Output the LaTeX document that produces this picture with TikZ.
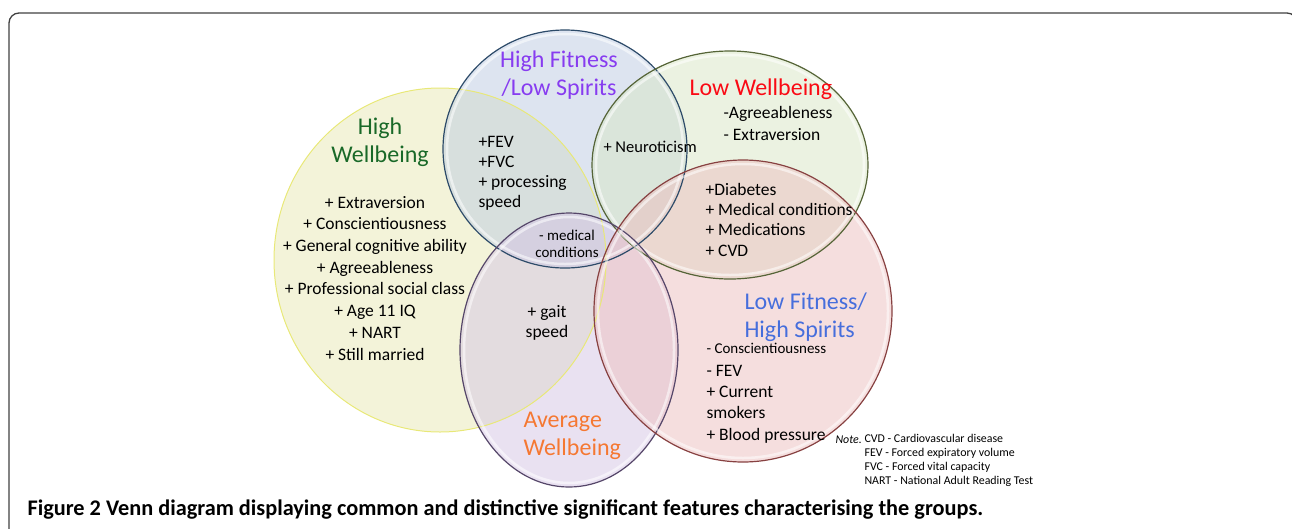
\documentclass[tikz,border=0pt]{standalone}
\usepackage{fontspec}
\setmainfont{Carlito}

\definecolor{hwfill}{RGB}{232,232,180}
\definecolor{hwedge}{RGB}{232,232,120}
\definecolor{hffill}{RGB}{188,202,226}
\definecolor{hfedge}{RGB}{45,75,105}
\definecolor{lwfill}{RGB}{216,230,196}
\definecolor{lwedge}{RGB}{85,100,55}
\definecolor{lffill}{RGB}{236,190,190}
\definecolor{lfedge}{RGB}{135,65,65}
\definecolor{awfill}{RGB}{212,196,228}
\definecolor{awedge}{RGB}{85,70,105}
\definecolor{hwcol}{RGB}{25,105,40}
\definecolor{hfcol}{RGB}{135,60,240}
\definecolor{lwcol}{RGB}{250,10,20}
\definecolor{awcol}{RGB}{245,120,50}
\definecolor{lfcol}{RGB}{70,110,220}

\tikzset{
  title/.style={font=\fontsize{24}{28}\selectfont, align=left},
  item/.style={font=\fontsize{17.5}{21.7}\selectfont, align=left},
  smallitem/.style={font=\fontsize{15}{17}\selectfont, align=center},
  note/.style={font=\fontsize{11.9}{13.7}\selectfont, align=left},
  rim/.style={line width=1.2pt},
  shine/.style={white, opacity=.55, line width=2.5pt},
}

\begin{document}
\begin{tikzpicture}[x=1pt,y=-1pt]
	\useasboundingbox (0,0) rectangle (1292,528);
	\draw[black!75, line width=1.3pt, rounded corners=10pt] (9,13) rectangle (1297,570);

	% fills
	\fill[hwfill, opacity=.5] (440,260) ellipse (166 and 172);
	\fill[hffill, opacity=.5] (565,149) ellipse (122 and 119);
	\fill[lwfill, opacity=.5] (730,165) ellipse (138 and 114);
	\fill[awfill, opacity=.5] (569,350) ellipse (109 and 137);
	\fill[lffill, opacity=.5] (743,311) ellipse (149 and 151);

	% rims
	\draw[hwedge, line width=1pt] (440,260) ellipse (166 and 172);
	\draw[shine] (565,149) ellipse (118 and 115);
	\draw[rim, hfedge] (565,149) ellipse (122 and 119);
	\draw[shine] (730,165) ellipse (134 and 110);
	\draw[rim, lwedge] (730,165) ellipse (138 and 114);
	\draw[shine] (569,350) ellipse (105 and 133);
	\draw[rim, awedge] (569,350) ellipse (109 and 137);
	\draw[shine] (743,311) ellipse (145 and 147);
	\draw[rim, lfedge] (743,311) ellipse (149 and 151);

	% group names (base = last line)
	\node[title, text=hfcol, align=center, anchor=base] (hftitle) at (559,95) {High Fitness\\/Low Spirits};
	\node[title, text=lwcol, anchor=base west] (lwtitle) at (686,95) {Low Wellbeing};
	\node[title, text=hwcol, align=center, anchor=base] (hwtitle) at (380,162) {High\\Wellbeing};
	\node[title, text=awcol, anchor=base west] (awtitle) at (520,455) {Average\\Wellbeing};
	\node[title, text=lfcol, anchor=base west] (lftitle) at (741,337) {Low Fitness/\\High Spirits};

	% features
	\node[item, align=center, anchor=base] (hwlist) at (375,360) {+ Extraversion\\+ Conscientiousness\\+ General cognitive ability\\+ Agreeableness\\+ Professional social class\\+ Age 11 IQ\\+ NART\\+ Still married};
	\node[item, font=\fontsize{17.5}{20}\selectfont, anchor=base west] (hflist) at (475,207) {+FEV\\+FVC\\+ processing\\speed};
	\node[item, font=\fontsize{16.5}{20}\selectfont, anchor=base west] (neuro) at (600,152) {+ Neuroticism};
	\node[item, font=\fontsize{17.5}{22}\selectfont, anchor=base west] (lwlist) at (720,140) {-Agreeableness\\- Extraversion};
	\node[item, font=\fontsize{17.5}{20.3}\selectfont, anchor=base west] (lwlflist) at (702,256) {+Diabetes\\+ Medical conditions\\+ Medications\\+ CVD};
	\node[smallitem, anchor=base] (medical) at (567,257) {- medical\\conditions};
	\node[item, font=\fontsize{17.5}{20}\selectfont, align=center, anchor=base] (gait) at (547,337) {+ gait\\speed};
	\node[smallitem, anchor=base west] (lfconsc) at (703,353) {- Conscientiousness};
	\node[item, font=\fontsize{17.5}{21.3}\selectfont, anchor=base west] (lflist) at (703,440) {- FEV\\+ Current\\smokers\\+ Blood pressure};

	% abbreviations
	\node[note, anchor=base west] (notehead) at (832,443) {\textit{Note.}};
	\node[note, anchor=base west] (notelist) at (861,484) {CVD - Cardiovascular disease\\FEV - Forced expiratory volume\\FVC - Forced vital capacity\\NART - National Adult Reading Test};

	\node[font=\bfseries\fontsize{22.3}{26}\selectfont, anchor=base west] (caption) at (24,515) {Figure 2 Venn diagram displaying common and distinctive significant features characterising the groups.};
\end{tikzpicture}
\end{document}
